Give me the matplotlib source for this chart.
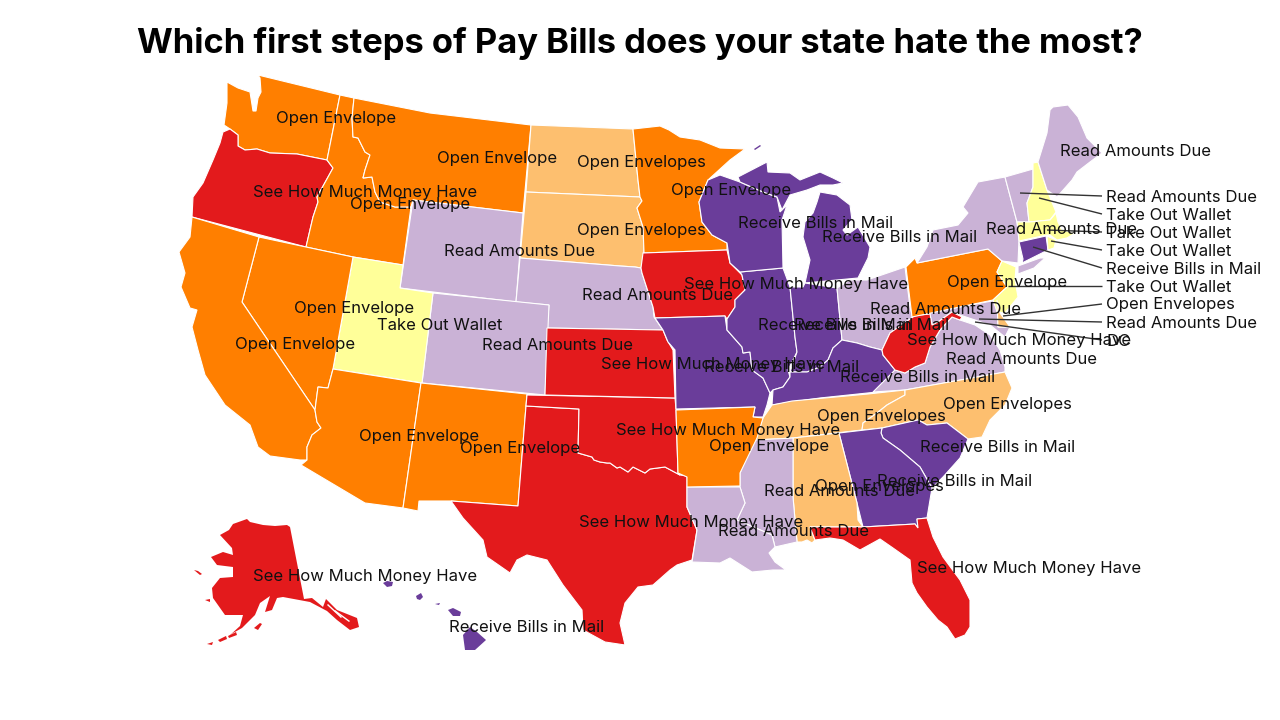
import matplotlib
matplotlib.use("Agg")
import matplotlib.pyplot as plt
from matplotlib.patches import Polygon

TITLE = "Which first steps of Pay Bills does your state hate the most?"
FONT = ["Inter", "DejaVu Sans"]

OPEN1, OPENS, READ, RECV, SEE, TAKE = "#FF7F00", "#FDBF6F", "#CAB2D6", "#6A3D9A", "#E31A1C", "#FFFF99"
STEP_COLORS = {"Open Envelope": OPEN1, "Open Envelopes": OPENS, "Read Amounts Due": READ,
               "Receive Bills in Mail": RECV, "See How Much Money Have": SEE, "Take Out Wallet": TAKE}

RED_RIVER = [(578,453),(592,457),(594,460),(600,462),(607,463),(610,463),(617,468),(620,467),(628,472),(633,467),(645,473),(650,469),(665,467),(680,475)]

WA = [(258,75),(340,95),(327,160),(297,154),(270,153),(257,149),(245,150),(238,146),(238,135),(230,129),(224,125),(227,103),(227,82),(238,88),(250,92),(253,111),(256,111),(258,98),(261,92),(260,78)]
OR = [(223,132),(230,129),(238,135),(238,146),(245,150),(257,149),(270,153),(297,154),(327,160),(333,168),(317,197),(318,202),(313,217),(306,247),(192,217),(193,197),(203,183),(213,160),(220,143)]
ID = [(340,95),(354,98),(352,118),(353,137),(358,138),(365,152),(370,155),(365,170),(363,178),(372,177),(375,192),(380,202),(395,207),(411,207),(403,265),(353,257),(306,247),(313,217),(318,202),(317,197),(333,168),(327,160)]
MT = [(354,98),(430,113),(531,125),(523,213),(413,200),(411,207),(395,207),(380,202),(375,192),(372,177),(363,178),(365,170),(370,155),(365,152),(358,138),(353,137),(352,118)]
WY = [(413,200),(523,213),(516,302),(400,288)]
ND = [(531,125),(633,129),(638,180),(640,197),(526,192)]
SD = [(526,192),(640,197),(642,201),(637,208),(643,227),(644,252),(641,268),(635,267),(620,266),(520,258)]
NE = [(520,258),(620,266),(635,267),(641,268),(642,273),(653,307),(654,317),(663,330),(547,328),(549,305),(516,302)]
CO = [(549,305),(433,293),(422,383),(545,395)]
UT = [(353,257),(403,265),(400,288),(433,293),(422,383),(333,369)]
NV = [(259,237),(353,257),(333,369),(328,388),(318,387),(315,410),(242,302)]
CA = [(192,217),(259,237),(242,302),(315,410),(317,422),(321,428),(312,435),(307,447),(307,460),(300,460),(270,456),(258,447),(250,425),(225,405),(205,375),(198,350),(192,327),(197,310),(190,308),(181,287),(185,273),(179,252),(190,237)]
AZ = [(333,369),(421,383),(403,508),(365,503),(301,465),(307,460),(307,447),(312,435),(321,428),(317,422),(315,410),(318,387),(328,388)]
NM = [(421,383),(527,394),(526,406),(518,506),(451,501),(419,501),(418,511),(403,508)]
TX = [(526,406),(579,409)] + RED_RIVER + [(687,476),(687,507),(697,530),(692,560),(677,565),(670,570),(653,585),(638,587),(625,603),(620,623),(625,645),(605,642),(583,630),(582,610),(563,585),(547,560),(527,555),(517,560),(510,573),(487,557),(483,540),(463,518),(451,501),(518,506)]
OK = [(527,395),(675,398),(676,409),(678,473)] + RED_RIVER[::-1] + [(579,409),(526,406)]
KS = [(547,328),(663,330),(667,340),(673,350),(675,398),(545,395)]
MN = [(633,129),(660,126),(669,130),(680,137),(700,140),(720,148),(745,149),(730,160),(708,180),(699,202),(702,222),(712,235),(727,243),(727,250),(643,253),(644,252),(643,227),(637,208),(642,201),(640,197),(638,180)]
IA = [(643,253),(727,250),(730,263),(742,275),(745,290),(735,300),(735,307),(727,319),(725,316),(655,318),(653,307),(642,273),(641,268)]
MO = [(655,318),(725,316),(727,330),(742,347),(743,353),(750,352),(752,370),(763,378),(770,393),(767,405),(763,417),(753,417),(755,407),(676,409),(675,350),(668,342),(663,330)]
IL = [(740,272),(783,268),(790,287),(795,337),(797,352),(788,370),(790,377),(783,387),(773,390),(770,393),(763,378),(752,370),(750,352),(743,353),(742,347),(727,330),(727,319),(735,307),(735,300),(745,290),(742,275)]
WI = [(708,180),(720,175),(740,182),(763,192),(777,197),(780,212),(787,205),(782,220),(783,268),(740,272),(730,263),(727,243),(712,235),(702,222),(699,202)]
MI_UP = [(740,182),(738,177),(767,162),(768,172),(790,173),(800,180),(820,172),(833,178),(843,183),(833,185),(820,185),(807,190),(790,195),(782,210),(777,197),(763,192)]
MI_LP = [(820,192),(837,195),(850,205),(852,220),(843,230),(847,235),(858,227),(870,247),(868,258),(858,278),(805,283),(810,260),(803,237),(805,222),(813,213),(817,202)]
MI_ROYALE = [(754,149),(760,145),(761,146),(755,150)]
IN = [(790,287),(803,287),(805,283),(837,288),(842,340),(833,348),(828,360),(820,367),(807,372),(790,372),(797,352),(795,337)]
OH = [(837,288),(850,280),(867,280),(905,267),(910,307),(913,317),(890,333),(882,350),(870,347),(857,343),(842,340)]
KY = [(773,390),(783,387),(790,377),(790,372),(807,372),(820,367),(828,360),(833,348),(842,340),(857,343),(870,347),(882,350),(883,355),(895,370),(877,392),(820,398),(792,402),(772,405)]
WV = [(910,303),(912,316),(930,314),(932,325),(938,322),(952,312),(962,317),(960,320),(952,317),(940,330),(930,347),(925,363),(915,367),(905,373),(895,370),(883,355),(882,350),(890,333),(913,317)]
VA = [(873,392),(895,370),(905,373),(915,367),(925,363),(930,347),(940,330),(952,317),(960,320),(975,325),(990,335),(1000,350),(1005,367),(1005,372),(905,390)]
MD = [(912,316),(997,300),(998,327),(1010,327),(1005,337),(990,325),(975,320),(960,315),(952,312),(938,322),(932,325),(930,314)]
PA = [(906,267),(915,258),(917,263),(988,249),(1002,261),(997,272),(1007,287),(993,300),(912,317)]
NY = [(917,263),(927,247),(933,230),(958,225),(968,213),(963,207),(978,182),(1005,177),(1017,222),(1019,240),(1018,263),(1002,261),(988,249)]
LI = [(1018,266),(1040,258),(1045,258),(1034,268),(1018,274)]
VT = [(1005,177),(1033,169),(1033,187),(1027,203),(1029,222),(1017,222)]
NH = [(1033,163),(1038,162),(1047,190),(1056,212),(1050,220),(1029,222),(1027,203),(1033,187)]
ME = [(1053,107),(1068,105),(1078,117),(1087,138),(1102,153),(1090,162),(1077,172),(1072,180),(1057,197),(1047,190),(1038,162),(1047,133),(1050,110)]
MA = [(1017,222),(1029,222),(1050,220),(1056,213),(1058,222),(1062,230),(1075,233),(1067,238),(1057,240),(1050,235),(1047,235),(1019,241)]
CT = [(1019,242),(1046,236),(1048,250),(1022,263),(1023,259)]
RI = [(1047,236),(1056,240),(1054,248),(1048,250)]
NJ = [(1002,261),(1016,267),(1015,280),(1018,297),(1005,313),(997,312),(993,300),(1007,287),(997,272)]
DE = [(997,300),(1000,313),(1010,327),(998,327)]
TN = [(772,405),(792,401),(868,394),(905,390),(905,395),(887,405),(877,413),(863,423),(862,430),(793,438),(755,440),(763,418)]
NC = [(905,390),(1005,372),(1012,388),(1005,405),(990,420),(982,437),(968,439),(947,423),(927,425),(918,420),(882,428),(862,430),(863,423),(877,413),(887,405),(905,395)]
SC = [(882,428),(918,420),(927,425),(947,423),(968,439),(960,458),(943,477),(932,488),(920,467),(900,450),(883,438),(881,433)]
GA = [(839,433),(882,428),(881,433),(883,438),(900,450),(920,467),(932,488),(928,512),(927,518),(917,519),(918,528),(915,524),(863,527),(857,503)]
AL = [(793,438),(839,433),(857,503),(858,520),(863,527),(810,527),(815,540),(812,543),(807,540),(802,542),(797,542),(793,497)]
FL = [(810,527),(863,527),(915,524),(918,528),(917,519),(927,518),(933,537),(943,557),(960,580),(970,600),(970,627),(965,635),(955,639),(947,627),(938,620),(927,607),(917,593),(912,583),(910,560),(893,548),(880,539),(860,550),(843,540),(830,538),(815,540)]
MS = [(755,440),(793,438),(793,497),(797,542),(775,547),(772,535),(737,520),(745,503),(740,487),(740,473),(747,457)]
LA = [(687,487),(740,487),(745,503),(737,520),(772,535),(775,547),(769,553),(775,562),(786,570),(773,570),(752,572),(730,558),(720,563),(692,562),(695,543),(697,530),(687,507)]
AR = [(676,410),(755,407),(753,417),(763,418),(757,438),(740,473),(740,486),(687,487),(687,477),(678,473)]
AK = [(290,527),(304,599),(312,598),(323,607),(326,599),(337,610),(357,618),(359,627),(350,630),(337,620),(327,611),(310,602),(283,597),(277,598),(272,610),(265,612),(270,596),(260,603),(255,615),(242,628),(233,633),(228,637),(240,626),(243,615),(225,615),(213,598),(212,588),(220,578),(233,577),(233,567),(217,565),(211,557),(223,552),(233,555),(232,548),(220,535),(229,530),(233,524),(247,519),(250,522),(263,525),(275,526),(287,525)]
AK_KODIAK = [(254,628),(260,623),(262,624),(258,630)]
AK_AL1 = [(228,636),(236,632),(237,635),(229,638)]
AK_AL2 = [(218,640),(226,636),(227,639),(220,642)]
AK_AL3 = [(207,644),(213,642),(212,645)]
AK_LAWR = [(194,570),(198,571),(202,574),(200,575)]
AK_NUNI = [(205,600),(210,599),(210,602)]
HI_KAUAI = [(383,583),(387,581),(393,582),(392,586),(387,587)]
HI_OAHU = [(416,596),(421,593),(423,597),(420,600),(417,599)]
HI_MOLOKAI = [(435,604),(440,603),(439,605)]
HI_MAUI = [(448,610),(453,608),(461,612),(460,616),(453,616)]
HI_BIG = [(463,635),(470,627),(477,632),(486,640),(475,650),(465,650)]
PUGET_ISLE = [(250,84),(254,83),(254,88),(250,88)]
AK_STREAK1 = [(328,604),(342,617),(341,618),(327,605)]
AK_STREAK2 = [(335,610),(350,621),(349,622),(334,611)]

SHAPES = [
    (WA,"Open Envelope"),(OR,"See How Much Money Have"),(ID,"Open Envelope"),(MT,"Open Envelope"),(WY,"Read Amounts Due"),
    (ND,"Open Envelopes"),(SD,"Open Envelopes"),(NE,"Read Amounts Due"),(CO,"Read Amounts Due"),(UT,"Take Out Wallet"),
    (NV,"Open Envelope"),(CA,"Open Envelope"),(AZ,"Open Envelope"),(NM,"Open Envelope"),(TX,"See How Much Money Have"),
    (OK,"See How Much Money Have"),(KS,"See How Much Money Have"),(MN,"Open Envelope"),(IA,"See How Much Money Have"),
    (MO,"Receive Bills in Mail"),(IL,"Receive Bills in Mail"),(WI,"Receive Bills in Mail"),(MI_UP,"Receive Bills in Mail"),
    (MI_LP,"Receive Bills in Mail"),(MI_ROYALE,"Receive Bills in Mail"),(IN,"Receive Bills in Mail"),(OH,"Read Amounts Due"),(KY,"Receive Bills in Mail"),
    (VA,"Read Amounts Due"),(MD,"Read Amounts Due"),(WV,"See How Much Money Have"),(PA,"Open Envelope"),(NY,"Read Amounts Due"),
    (LI,"Read Amounts Due"),(VT,"Read Amounts Due"),(NH,"Take Out Wallet"),(ME,"Read Amounts Due"),(MA,"Take Out Wallet"),
    (CT,"Receive Bills in Mail"),(RI,"Take Out Wallet"),(NJ,"Take Out Wallet"),(DE,"Open Envelopes"),(TN,"Open Envelopes"),
    (NC,"Open Envelopes"),(SC,"Receive Bills in Mail"),(GA,"Receive Bills in Mail"),(AL,"Open Envelopes"),(FL,"See How Much Money Have"),
    (MS,"Read Amounts Due"),(LA,"Read Amounts Due"),(AR,"Open Envelope"),(AK,"See How Much Money Have"),
    (AK_KODIAK,"See How Much Money Have"),(AK_AL1,"See How Much Money Have"),(AK_AL2,"See How Much Money Have"),
    (AK_AL3,"See How Much Money Have"),(AK_LAWR,"See How Much Money Have"),(AK_NUNI,"See How Much Money Have"),
    (HI_KAUAI,"Receive Bills in Mail"),(HI_OAHU,"Receive Bills in Mail"),(HI_MOLOKAI,"Receive Bills in Mail"),
    (HI_MAUI,"Receive Bills in Mail"),(HI_BIG,"Receive Bills in Mail"),
]
NO_EDGE = [AK, AK_KODIAK, AK_AL1, AK_AL2, AK_AL3, AK_LAWR, AK_NUNI, HI_KAUAI, HI_OAHU, HI_MOLOKAI, HI_MAUI, HI_BIG, MI_ROYALE]

LABELS = [
    ("Open Envelope",336,117),("Open Envelope",497,157),("Open Envelopes",641,161),("See How Much Money Have",365,191),
    ("Open Envelope",410,204),("Open Envelope",731,189),("Receive Bills in Mail",816,223),("Receive Bills in Mail",900,237),
    ("Read Amounts Due",1136,151),("Open Envelopes",641,229),("Read Amounts Due",520,251),("Read Amounts Due",658,294),
    ("See How Much Money Have",796,283),("Open Envelope",354,307),("Open Envelope",295,343),("Take Out Wallet",440,324),
    ("Read Amounts Due",558,344),("See How Much Money Have",713,364),("Receive Bills in Mail",782,366),("Receive Bills in Mail",836,325),
    ("Receive Bills in Mail",872,325),("Read Amounts Due",945,308),("See How Much Money Have",1019,339),("Read Amounts Due",1022,359),
    ("Receive Bills in Mail",918,376),("Open Envelope",1007,281),("Read Amounts Due",1061,228),("Open Envelope",419,436),
    ("Open Envelope",520,447),("See How Much Money Have",728,430),("Open Envelope",769,445),("Open Envelopes",881,416),
    ("Open Envelopes",1007,404),("Receive Bills in Mail",998,446),("Receive Bills in Mail",955,481),("Open Envelopes",879,485),
    ("Read Amounts Due",840,491),("Read Amounts Due",793,530),("See How Much Money Have",691,522),("See How Much Money Have",1029,567),
    ("See How Much Money Have",365,575),("Receive Bills in Mail",527,627),
]
CALLOUT_TEXT = ["Read Amounts Due","Take Out Wallet","Take Out Wallet","Take Out Wallet","Receive Bills in Mail","Take Out Wallet","Open Envelopes","Read Amounts Due","DC"]
CALLOUT_Y = [196,214,232,250,268,286,304,322,340]
CALLOUT_ANCHOR = [(1020,193),(1039,198),(1047,230),(1051,241),(1033,247),(1008,286),(1003,316),(979,319),(975,322)]

fig = plt.figure(figsize=(12.8, 7.2), dpi=100, facecolor="white")
ax = fig.add_axes([0, 0, 1, 1])
ax.set_xlim(0, 1280); ax.set_ylim(720, 0); ax.axis("off")

for pts, step in SHAPES:
    edge = "none" if any(pts is p for p in NO_EDGE) else "white"
    ax.add_patch(Polygon(pts, closed=True, facecolor=STEP_COLORS[step], edgecolor=edge, linewidth=0.8, zorder=2))
for hole in (PUGET_ISLE, AK_STREAK1, AK_STREAK2):
    ax.add_patch(Polygon(hole, closed=True, facecolor="white", edgecolor="none", zorder=3))

for (ax0, ay0), y in zip(CALLOUT_ANCHOR, CALLOUT_Y):
    ax.plot([ax0, 1102], [ay0, y], color="#333333", lw=1.0, zorder=4, solid_capstyle="butt")

for t, x, y in LABELS:
    ax.text(x, y + 1, t, ha="center", va="center", fontsize=12.0, family=FONT, color="#111111", zorder=5)
for t, y in zip(CALLOUT_TEXT, CALLOUT_Y):
    ax.text(1106, y + 1, t, ha="left", va="center", fontsize=12.0, family=FONT, color="#111111", zorder=5)

ax.text(640, 43, TITLE, ha="center", va="center", fontsize=24.85, fontweight="bold", family=FONT, color="black", zorder=6)
fig.savefig("out.png", dpi=100)
